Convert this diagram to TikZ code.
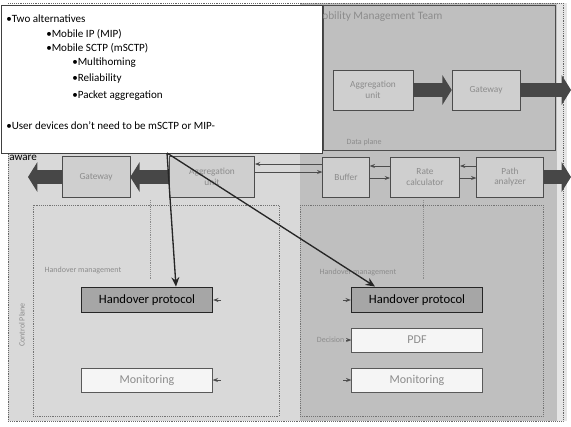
\documentclass[tikz,border=0pt]{standalone}
\usepackage{fontspec}
\setmainfont{Carlito}
\usetikzlibrary{arrows.meta}

\tikzset{
  fadebox/.style={draw=black!70, fill=gray!38, align=center, inner sep=1pt,
    font=\fontsize{7}{8}\selectfont, text=black!45},
  hobox/.style={draw=black!85, line width=1.2pt, fill=black!35, minimum width=98pt,
    minimum height=19pt, font=\fontsize{9.5}{11}\selectfont},
  lightbox/.style={draw=black!65, fill=gray!8, minimum width=98pt, minimum height=18pt,
    font=\fontsize{9}{11}\selectfont, text=black!45},
  bigarrow/.style={draw=black!72, line width=11pt, -{Triangle[length=7pt,width=22pt]}},
  thinarrow/.style={draw=black!70, line width=0.6pt, -{Stealth[length=4pt]}},
  faint/.style={font=\fontsize{6}{7}\selectfont, text=black!45, inner sep=1pt},
  bullet/.style={anchor=west, inner sep=0pt, font=\fontsize{8.3}{10}\selectfont}
}

\begin{document}
\begin{tikzpicture}[x=0.75pt,y=0.75pt,yscale=-1,xscale=1]
\useasboundingbox (0,0) rectangle (571,426);
% backgrounds
\fill[gray!30] (8,150) rectangle (300,421);
\fill[gray!50] (300,3) rectangle (557,421);
\fill[gray!20] (557,3) rectangle (567,421);
\draw[black!60, densely dotted] (8,3) rectangle (563,421);
\draw[black!55, densely dotted] (33,205) rectangle (279,416);
\draw[black!55, densely dotted] (300,205) rectangle (543,416);
\draw[black!70] (323,5) rectangle (555,150);
\draw[black!45, densely dotted] (150,200) -- (150,280);
\draw[black!45, densely dotted] (423,200) -- (423,280);

% management team
\node[faint, anchor=west, font=\fontsize{8.5}{10}\selectfont] (team) at (311,17) {Mobility Management Team};
\node[fadebox, minimum width=60pt, minimum height=30pt] (aggtop) at (373,90) {Aggregation\\unit};
\node[fadebox, minimum width=51pt, minimum height=30pt] (gwtop) at (486,90) {Gateway};
\coordinate (outtop) at (571,90);
\draw[bigarrow] (aggtop) -- (gwtop);
\draw[bigarrow] (gwtop) -- (outtop);
\node[faint, anchor=west] (dplane) at (345,142) {Data plane};

% data path
\node[fadebox, minimum width=51pt, minimum height=31pt] (gw) at (96,177) {Gateway};
\node[fadebox, minimum width=64pt, minimum height=31pt] (agg) at (212,177) {Aggregation\\unit};
\node[fadebox, minimum width=35pt, minimum height=30pt] (buf) at (346,177) {Buffer};
\node[fadebox, minimum width=52pt, minimum height=30pt] (calc) at (425,177) {Rate\\calculator};
\node[fadebox, minimum width=50pt, minimum height=30pt] (anl) at (510,177) {Path\\analyzer};
\coordinate (outleft) at (28,177);
\coordinate (outright) at (571,177);
\draw[bigarrow] (gw) -- (outleft);
\draw[bigarrow] (agg) -- (gw);
\draw[bigarrow] (anl) -- (outright);
\draw[thinarrow] (buf.west |- 0,164) -- (agg.east |- 0,164);
\draw[thinarrow] (agg.east |- 0,172) -- (buf.west |- 0,172);
\draw[thinarrow] (calc.west |- 0,166) -- (buf.east |- 0,166);
\draw[thinarrow] (buf.east |- 0,178) -- (calc.west |- 0,178);
\draw[thinarrow] (anl.west |- 0,166) -- (calc.east |- 0,166);
\draw[thinarrow] (calc.east |- 0,178) -- (anl.west |- 0,178);

% control plane
\node[faint, rotate=90] (cplane) at (22,325) {Control Plane};
\node[faint, anchor=west] (hmleft) at (43,270) {Handover management};
\node[faint, anchor=west] (hmright) at (318,272) {Handover management};
\node[hobox] (hpleft) at (147,300) {Handover protocol};
\node[lightbox] (monleft) at (147,380) {Monitoring};
\node[hobox] (hpright) at (417,300) {Handover protocol};
\node[lightbox] (pdf) at (417,340) {PDF};
\node[lightbox] (monright) at (417,380) {Monitoring};
\node[faint, anchor=east] (dec) at (346,340) {Decision};
\draw[thinarrow] ([xshift=6pt]hpleft.east) -- (hpleft.east);
\draw[thinarrow] ([xshift=6pt]monleft.east) -- (monleft.east);
\draw[thinarrow] (dec) -- (pdf);
\draw[thinarrow] ([xshift=-6pt]hpright.west) -- (hpright.west);
\draw[thinarrow] ([xshift=-6pt]monright.west) -- (monright.west);

% callout
\node[draw=black!75, fill=white, minimum width=241pt, minimum height=111pt, anchor=north west,
  inner sep=0pt] (call) at (1,5) {};
\node[bullet] (t1) at (6,19) {•Two alternatives};
\node[bullet] (t2) at (46,34) {•Mobile IP (MIP)};
\node[bullet] (t3) at (46,48) {•Mobile SCTP (mSCTP)};
\node[bullet] (t4) at (72,63) {•Multihoming};
\node[bullet] (t5) at (72,79) {•Reliability};
\node[bullet] (t6) at (72,96) {•Packet aggregation};
\node[bullet] (t7) at (6,126) {•User devices don’t need to be mSCTP or MIP-};
\node[bullet] (t8) at (9,158) {aware};
\coordinate (src) at (167,153);
\draw[black!85, line width=1pt, -{Stealth[length=7pt,width=6pt]}] (src) -- (hpleft.north -| 176,0);
\draw[black!85, line width=1pt, -{Stealth[length=7pt,width=6pt]}] (src) -- (hpright.north -| 375,0);
\end{tikzpicture}
\end{document}
